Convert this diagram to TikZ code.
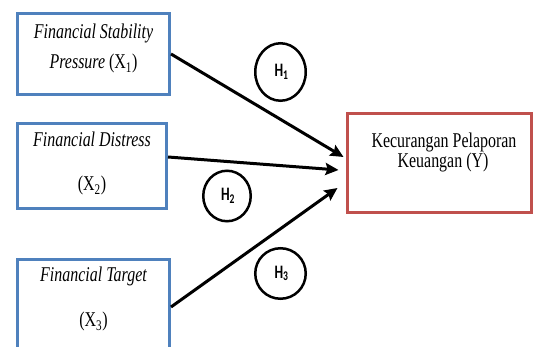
\documentclass[tikz,border=0pt]{standalone}
\usepackage{fontspec}
\usetikzlibrary{arrows.meta,calc,shapes.geometric}
\newfontfamily\boxfont[FakeStretch=0.76]{Liberation Serif}
\newfontfamily\hfont[FakeStretch=0.72]{Carlito}
\definecolor{boxblue}{RGB}{79,129,189}
\definecolor{boxred}{RGB}{192,80,77}
\tikzset{
  varbox/.style={draw=boxblue, line width=3pt, rectangle, inner sep=0pt, fill=white},
  ybox/.style={draw=boxred, line width=3pt, rectangle, inner sep=0pt, fill=white},
  hyp/.style={draw=black, line width=2.5pt, ellipse, inner sep=0pt, font=\hfont\bfseries\fontsize{19}{19}\selectfont},
  lab/.style={inner sep=0pt, anchor=base, font=\boxfont\fontsize{21}{21}\selectfont},
  conn/.style={line width=3pt, -{Stealth[length=13pt,width=12pt,inset=2pt]}}
}
\begin{document}
\begin{tikzpicture}[x=1pt,y=-1pt]
\clip (0,0) rectangle (536,347);
\fill[white] (0,0) rectangle (536,347);
% boxes
\node[varbox, minimum width=152pt, minimum height=81pt] (b1) at (93.5,54) {};
\node[varbox, minimum width=149pt, minimum height=85pt] (b2) at (92,166) {};
\node[varbox, minimum width=152pt, minimum height=95pt] (b3) at (93.5,307) {};
\node[ybox, minimum width=184pt, minimum height=99pt] (y) at (439.5,163) {};
% texts
\node[lab] (t1a) at (93.5,39) {\itshape Financial Stability};
\node[lab] (t1b) at (93.5,69) {\itshape Pressure \upshape(X\textsubscript{1})};
\node[lab] (t2a) at (92,147) {\itshape Financial Distress};
\node[lab] (t2b) at (92,191) {(X\textsubscript{2})};
\node[lab] (t3a) at (93.5,282) {\itshape Financial Target};
\node[lab] (t3b) at (93.5,327) {(X\textsubscript{3})};
\node[lab] (ya) at (444,148) {Kecurangan Pelaporan};
\node[lab] (yb) at (443,168) {Keuangan (Y)};
% hypotheses
\node[hyp, minimum width=50.5pt, minimum height=57.5pt] (h1) at (280.5,72) {\kern2pt H\textsubscript{1}};
\node[hyp, minimum width=47.5pt, minimum height=50.5pt] (h2) at (227,196) {\kern2pt H\textsubscript{2}};
\node[hyp, minimum width=50.5pt, minimum height=50.5pt] (h3) at (280.5,273.5) {\kern2pt H\textsubscript{3}};
% connectors
\coordinate (s2) at ($(b2.east)+(0,-9)$);
\coordinate (e1) at ($(y.west)+(-2.5,-6)$);
\coordinate (e2) at ($(y.west)+(-7.5,7)$);
\coordinate (e3) at ($(y.west)+(-8.5,25)$);
\draw[conn] (b1.east) -- (e1);
\draw[conn] (s2) -- (e2);
\draw[conn] (b3.east) -- (e3);
\end{tikzpicture}
\end{document}
